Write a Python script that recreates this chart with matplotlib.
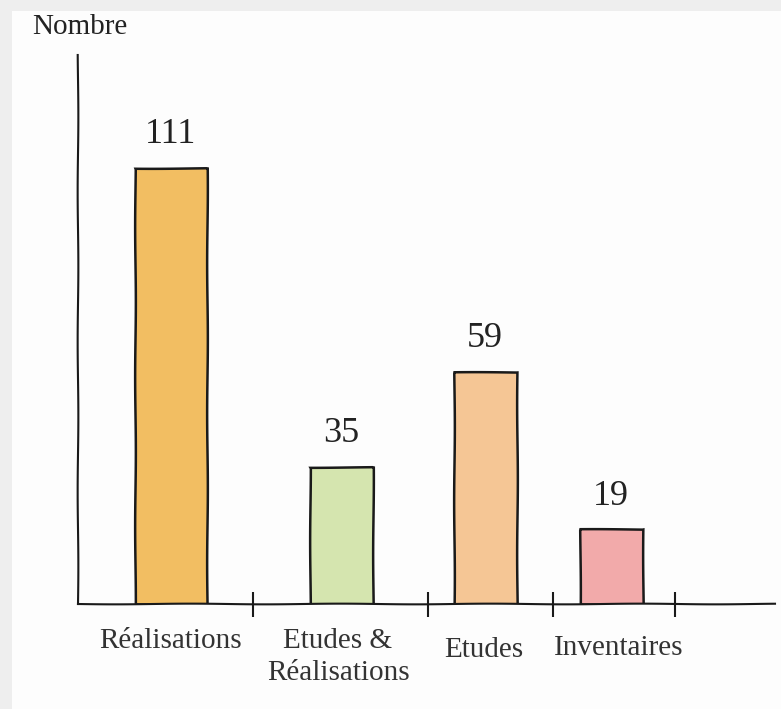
import matplotlib.pyplot as plt
from matplotlib.patches import Rectangle

# data
categories = ['Réalisations', 'Etudes &\nRéalisations', 'Etudes', 'Inventaires']
values = [111, 35, 59, 19]
colors = ['#F2BE62', '#D5E5AF', '#F5C695', '#F2AAAA']

# layout (x in axis units, hand placed like the original drawing)
bar_x = [93, 263, 407, 533]
bar_w = [72, 63, 63, 63]
sep_ticks = [175, 350, 475, 597]
label_x = [92, 260, 406, 541]
label_dy = [17, 17, 24, 22]

plt.rcParams['font.family'] = ['Liberation Serif', 'DejaVu Serif']
sketch = (0.35, 150, 1)

fig = plt.figure(figsize=(7.81, 7.09), dpi=100, facecolor='#eeeeee')
card = Rectangle((12 / 781, 0), 1, (709 - 11) / 709, transform=fig.transFigure,
                 facecolor='#fdfdfd', edgecolor='none', zorder=-10)
fig.patches.append(card)

ax = fig.add_axes([78 / 781, 105 / 709, 697 / 781, 549 / 709])
ax.set_zorder(1)
ax.set_facecolor('none')

bars = ax.bar(bar_x, values, width=bar_w, color=colors, edgecolor='#1a1a1a', linewidth=1.8, zorder=2)
for b, v in zip(bars, values):
    b.set_sketch_params(*sketch)
    ax.annotate(str(v), (b.get_x() + b.get_width() / 2, v), xytext=(0, 24),
                textcoords='offset points', ha='center', va='center', fontsize=26, color='#222222')

ax.set_xlim(0, 697)
ax.set_ylim(0, 139.8)

for s in ['top', 'right']:
    ax.spines[s].set_visible(False)
for s in ['left', 'bottom']:
    ax.spines[s].set_linewidth(1.5)
    ax.spines[s].set_color('#1a1a1a')
    ax.spines[s].set_sketch_params(*sketch)

ax.set_yticks([])
ax.set_xticks(sep_ticks)
ax.set_xticklabels([])
ax.tick_params(axis='x', direction='inout', length=18, width=1.5, color='#1a1a1a')

for x, lab, dy in zip(label_x, categories, label_dy):
    ax.annotate(lab, (x, 0), xytext=(0, -dy), textcoords='offset points', ha='center', va='top',
                fontsize=21, color='#333333', linespacing=1.3, annotation_clip=False)

fig.text(80 / 781, 1 - 27 / 709, 'Nombre', ha='center', va='center', fontsize=21, color='#222222')

fig.savefig('out.png', dpi=100, facecolor=fig.get_facecolor())
